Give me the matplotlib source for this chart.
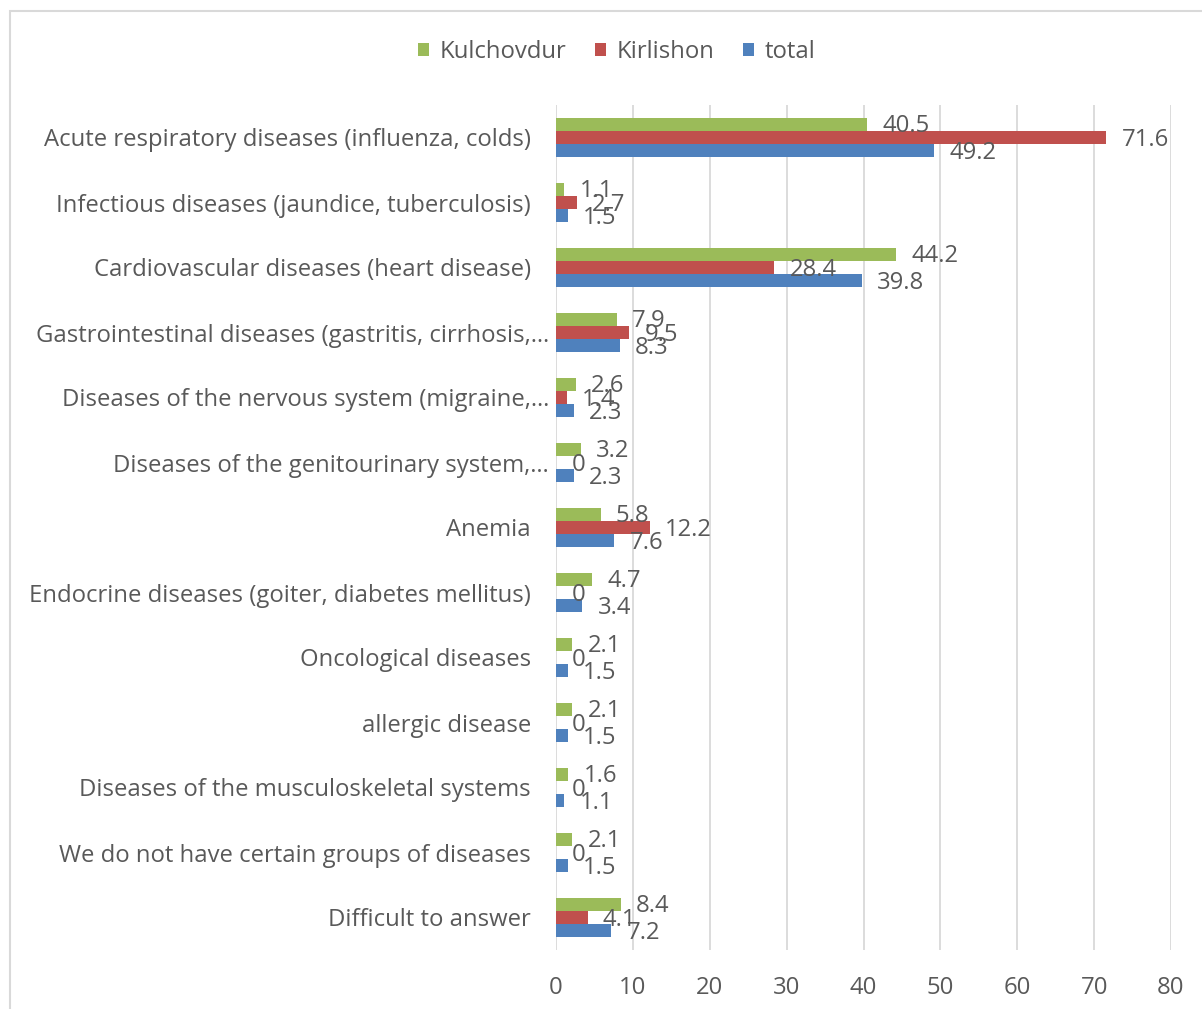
import matplotlib.pyplot as plt
import numpy as np
from matplotlib.patches import Rectangle
from matplotlib.transforms import ScaledTranslation

plt.rcParams['font.family'] = ['Open Sans', 'DejaVu Sans']

categories = [
    'Acute respiratory diseases (influenza, colds)',
    'Infectious diseases (jaundice, tuberculosis)',
    'Cardiovascular diseases (heart disease)',
    'Gastrointestinal diseases (gastritis, cirrhosis,\u2026',
    'Diseases of the nervous system (migraine,\u2026',
    'Diseases of the genitourinary system,\u2026',
    'Anemia',
    'Endocrine diseases (goiter, diabetes mellitus)',
    'Oncological diseases',
    'allergic disease',
    'Diseases of the musculoskeletal systems',
    'We do not have certain groups of diseases',
    'Difficult to answer',
]
kulchovdur = [40.5, 1.1, 44.2, 7.9, 2.6, 3.2, 5.8, 4.7, 2.1, 2.1, 1.6, 2.1, 8.4]
kirlishon = [71.6, 2.7, 28.4, 9.5, 1.4, 0, 12.2, 0, 0, 0, 0, 0, 4.1]
total = [49.2, 1.5, 39.8, 8.3, 2.3, 2.3, 7.6, 3.4, 1.5, 1.5, 1.1, 1.5, 7.2]

series = [('Kulchovdur', kulchovdur, '#9BBB59'),
          ('Kirlishon', kirlishon, '#C0504D'),
          ('total', total, '#4F81BD')]

txt = '#595959'
fs = 17.2

fig = plt.figure(figsize=(12.02, 10.09), dpi=100)
ax = fig.add_axes([556 / 1202, 1 - 950 / 1009, 615 / 1202, 845 / 1009])

y = np.arange(len(categories))
h = 0.205
for k, (name, vals, col) in enumerate(series):
    pos = y + (k - 1) * h
    bars = ax.barh(pos, vals, height=h, color=col, label=name, zorder=3)
    for b, v in zip(bars, vals):
        ax.annotate(f'{v:g}', (b.get_width(), b.get_y() + h / 2),
                    xytext=(11, -1.5), textcoords='offset points',
                    va='center', ha='left', fontsize=fs, color=txt, zorder=4)

ax.set_xlim(0, 80)
ax.set_xticks(range(0, 81, 10))
ax.set_ylim(len(categories) - 0.5, -0.5)
ax.set_yticks(y)
ax.set_yticklabels(categories)
ax.tick_params(axis='y', length=0, pad=18, labelsize=fs, labelcolor=txt)
ax.tick_params(axis='x', length=0, pad=18.5, labelsize=fs, labelcolor=txt)
ax.grid(axis='x', color='#D9D9D9', lw=1.3, zorder=0)
for s in ax.spines.values():
    s.set_visible(False)

# truncated labels sit a little closer to the axis
shift = ScaledTranslation(18 / 100, 0, fig.dpi_scale_trans)
for lab in ax.get_yticklabels():
    if lab.get_text().endswith('\u2026'):
        lab.set_transform(lab.get_transform() + shift)

fig.legend(loc='center', bbox_to_anchor=(617 / 1202, 1 - 52 / 1009), ncol=3,
           frameon=False, fontsize=fs, labelcolor=txt, handlelength=0.45,
           handleheight=0.5, handletextpad=0.45, columnspacing=1.2)

# chart area outline, open on the right and bottom
fig.add_artist(Rectangle((10 / 1202, -0.05), 1.2, 1 - 11 / 1009 + 0.05,
                         transform=fig.transFigure, fill=False,
                         edgecolor='#D9D9D9', lw=1.5))

fig.savefig('out.png', dpi=100)
